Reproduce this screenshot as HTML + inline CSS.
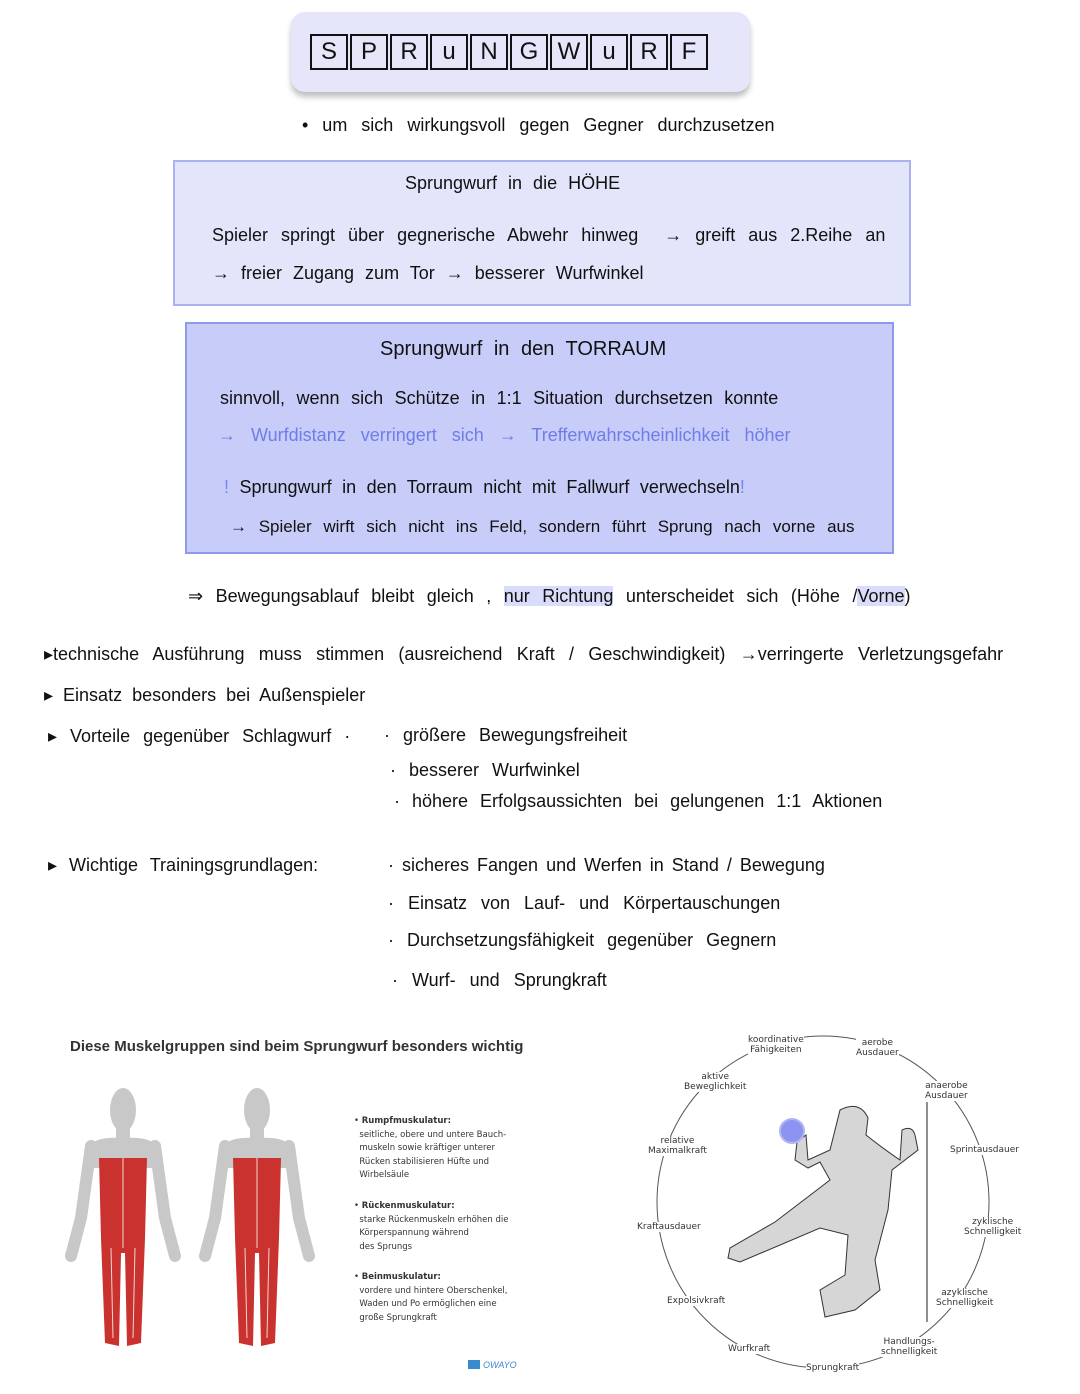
<!DOCTYPE html>
<html><head><meta charset="utf-8"><style>
body{margin:0;width:1080px;height:1394px;background:#fff;position:relative;overflow:hidden;font-family:"Liberation Sans",sans-serif;color:#111}
.t{position:absolute;white-space:nowrap;font-size:18px;word-spacing:6px}
.s{position:absolute;white-space:nowrap;font-size:9px;color:#333;font-family:"DejaVu Sans","Liberation Sans",sans-serif;text-align:center;line-height:10px}
.lt{display:inline-block;width:34px;height:32px;border:2px solid #111;margin-right:2px;text-align:center;line-height:32px;font-size:24px;vertical-align:top}
</style></head><body>
<div style="position:absolute;left:291px;top:12px;width:459px;height:80px;background:#e6e6fb;border-radius:14px;box-shadow:0 5px 6px rgba(0,0,0,.25)"></div>
<div style="position:absolute;left:310px;top:34px">
<span class="lt">S</span><span class="lt">P</span><span class="lt">R</span><span class="lt">u</span><span class="lt">N</span><span class="lt">G</span><span class="lt">W</span><span class="lt">u</span><span class="lt">R</span><span class="lt">F</span></div>
<div class="t" style="left:302px;top:115px;word-spacing:9px">• um sich wirkungsvoll gegen Gegner durchzusetzen</div>

<div style="position:absolute;left:173px;top:160px;width:734px;height:142px;background:#e3e5fb;border:2px solid #aab2f0"></div>
<div class="t" style="left:405px;top:173px">Sprungwurf in die HÖHE</div>
<div class="t" style="left:212px;top:225px;word-spacing:8px">Spieler springt über gegnerische Abwehr hinweg &nbsp;→ greift aus 2.Reihe an</div>
<div class="t" style="left:212px;top:263px;word-spacing:6px">→ freier Zugang zum Tor → besserer Wurfwinkel</div>

<div style="position:absolute;left:185px;top:322px;width:705px;height:228px;background:#c7cdf8;border:2px solid #8e99ec"></div>
<div class="t" style="left:380px;top:338px;font-size:20px;word-spacing:6px">Sprungwurf in den TORRAUM</div>
<div class="t" style="left:220px;top:388px;word-spacing:6.5px">sinnvoll, wenn sich Schütze in 1:1 Situation durchsetzen konnte</div>
<div class="t" style="left:218px;top:425px;color:#6e7de8;word-spacing:10px">→ Wurfdistanz verringert sich → Trefferwahrscheinlichkeit höher</div>
<div class="t" style="left:224px;top:477px;word-spacing:5.5px"><span style="color:#7a86ea">!</span> Sprungwurf in den Torraum nicht mit Fallwurf verwechseln<span style="color:#7a86ea">!</span></div>
<div class="t" style="left:230px;top:517px;font-size:17px;word-spacing:7px">→ Spieler wirft sich nicht ins Feld, sondern führt Sprung nach vorne aus</div>

<div class="t" style="left:188px;top:586px;word-spacing:7.5px">⇒ Bewegungsablauf bleibt gleich , <span style="background:#d9dcfa">nur Richtung</span> unterscheidet sich (Höhe /<span style="background:#d9dcfa">Vorne</span>)</div>
<div class="t" style="left:44px;top:644px;word-spacing:9.3px">▸technische Ausführung muss stimmen (ausreichend Kraft / Geschwindigkeit) →verringerte Verletzungsgefahr</div>
<div class="t" style="left:44px;top:685px;word-spacing:5px">▸ Einsatz besonders bei Außenspieler</div>
<div class="t" style="left:48px;top:726px;word-spacing:8px">▸ Vorteile gegenüber Schlagwurf ·</div>
<div class="t" style="left:384px;top:725px;word-spacing:8px">· größere Bewegungsfreiheit</div>
<div class="t" style="left:390px;top:760px;word-spacing:8px">· besserer Wurfwinkel</div>
<div class="t" style="left:394px;top:791px;word-spacing:7px">· höhere Erfolgsaussichten bei gelungenen 1:1 Aktionen</div>
<div class="t" style="left:48px;top:855px;word-spacing:7px">▸ Wichtige Trainingsgrundlagen:</div>
<div class="t" style="left:388px;top:855px;word-spacing:3px">· sicheres Fangen und Werfen in Stand / Bewegung</div>
<div class="t" style="left:388px;top:893px;word-spacing:9px">· Einsatz von Lauf- und Körpertauschungen</div>
<div class="t" style="left:388px;top:930px;word-spacing:8px">· Durchsetzungsfähigkeit gegenüber Gegnern</div>
<div class="t" style="left:392px;top:970px;word-spacing:9px">· Wurf- und Sprungkraft</div>

<div class="t" style="left:70px;top:1038px;font-size:15px;font-weight:bold;color:#333;word-spacing:0">Diese Muskelgruppen sind beim Sprungwurf besonders wichtig</div>
<svg style="position:absolute;left:0;top:0" width="1080" height="1394">
<defs><g id="fig">
<ellipse cx="0" cy="22" rx="13" ry="22" fill="#c8c8c8"/>
<rect x="-7" y="40" width="14" height="14" fill="#c8c8c8"/>
<path d="M-34 60 Q-30 48 0 50 Q30 48 34 60 L36 80 L-36 80Z" fill="#c8c8c8"/>
<path d="M-32 58 L-42 130 L-52 168 M32 58 L42 130 L52 168" stroke="#c8c8c8" stroke-width="12" fill="none" stroke-linecap="round"/>
<path d="M-24 70 L24 70 L22 150 L18 255 L4 258 L2 165 L-2 165 L-4 258 L-18 255 L-22 150Z" fill="#c9322e"/>
<path d="M0 70 V160 M-12 160 L-10 250 M12 160 L10 250" stroke="#f0d8d0" stroke-width="1" fill="none"/>
</g></defs>
<use href="#fig" x="123" y="1088"/>
<use href="#fig" x="257" y="1088"/>
<circle cx="823" cy="1202" r="166" fill="none" stroke="#555" stroke-width="1"/>
<line x1="927" y1="1102" x2="927" y2="1322" stroke="#444" stroke-width="1.2"/>
<path d="M840 1110 Q860 1100 868 1118 L866 1135 Q885 1150 900 1160 L902 1130 Q912 1125 915 1135 L918 1150 L892 1170 L888 1210 L875 1260 L880 1290 L855 1310 L825 1317 L820 1290 L845 1275 L848 1235 L820 1228 L740 1262 L728 1258 L730 1248 L775 1222 L830 1180 L820 1162 L808 1168 L795 1160 L797 1142 L806 1135 L808 1160 L830 1150Z" fill="#d6d6d6" stroke="#333" stroke-width="1"/>
<circle cx="792" cy="1131" r="12" fill="#8d93f0" stroke="#b0b5f6" stroke-width="2"/>
<rect x="468" y="1360" width="12" height="9" fill="#3a8ad0"/>
<text x="483" y="1368" font-size="9" fill="#3a8ad0" font-style="italic" font-family="Liberation Sans">OWAYO</text>
</svg>
<div class="s" style="left:354px;top:1115px;text-align:left;font-size:8.5px;line-height:13.5px">• <b>Rumpfmuskulatur:</b><br>&nbsp; seitliche, obere und untere Bauch-<br>&nbsp; muskeln sowie kräftiger unterer<br>&nbsp; Rücken stabilisieren Hüfte und<br>&nbsp; Wirbelsäule</div>
<div class="s" style="left:354px;top:1200px;text-align:left;font-size:8.5px;line-height:13.5px">• <b>Rückenmuskulatur:</b><br>&nbsp; starke Rückenmuskeln erhöhen die<br>&nbsp; Körperspannung während<br>&nbsp; des Sprungs</div>
<div class="s" style="left:354px;top:1271px;text-align:left;font-size:8.5px;line-height:13.5px">• <b>Beinmuskulatur:</b><br>&nbsp; vordere und hintere Oberschenkel,<br>&nbsp; Waden und Po ermöglichen eine<br>&nbsp; große Sprungkraft</div>

<div class="s" style="left:748px;top:1035px;background:#fff">koordinative<br>Fähigkeiten</div>
<div class="s" style="left:856px;top:1038px;background:#fff">aerobe<br>Ausdauer</div>
<div class="s" style="left:684px;top:1072px;background:#fff">aktive<br>Beweglichkeit</div>
<div class="s" style="left:925px;top:1081px;background:#fff">anaerobe<br>Ausdauer</div>
<div class="s" style="left:648px;top:1136px;background:#fff">relative<br>Maximalkraft</div>
<div class="s" style="left:950px;top:1145px;background:#fff">Sprintausdauer</div>
<div class="s" style="left:637px;top:1222px;background:#fff">Kraftausdauer</div>
<div class="s" style="left:964px;top:1217px;background:#fff">zyklische<br>Schnelligkeit</div>
<div class="s" style="left:667px;top:1296px;background:#fff">Expolsivkraft</div>
<div class="s" style="left:936px;top:1288px;background:#fff">azyklische<br>Schnelligkeit</div>
<div class="s" style="left:728px;top:1344px;background:#fff">Wurfkraft</div>
<div class="s" style="left:881px;top:1337px;background:#fff">Handlungs-<br>schnelligkeit</div>
<div class="s" style="left:806px;top:1363px;background:#fff">Sprungkraft</div>
</body></html>
